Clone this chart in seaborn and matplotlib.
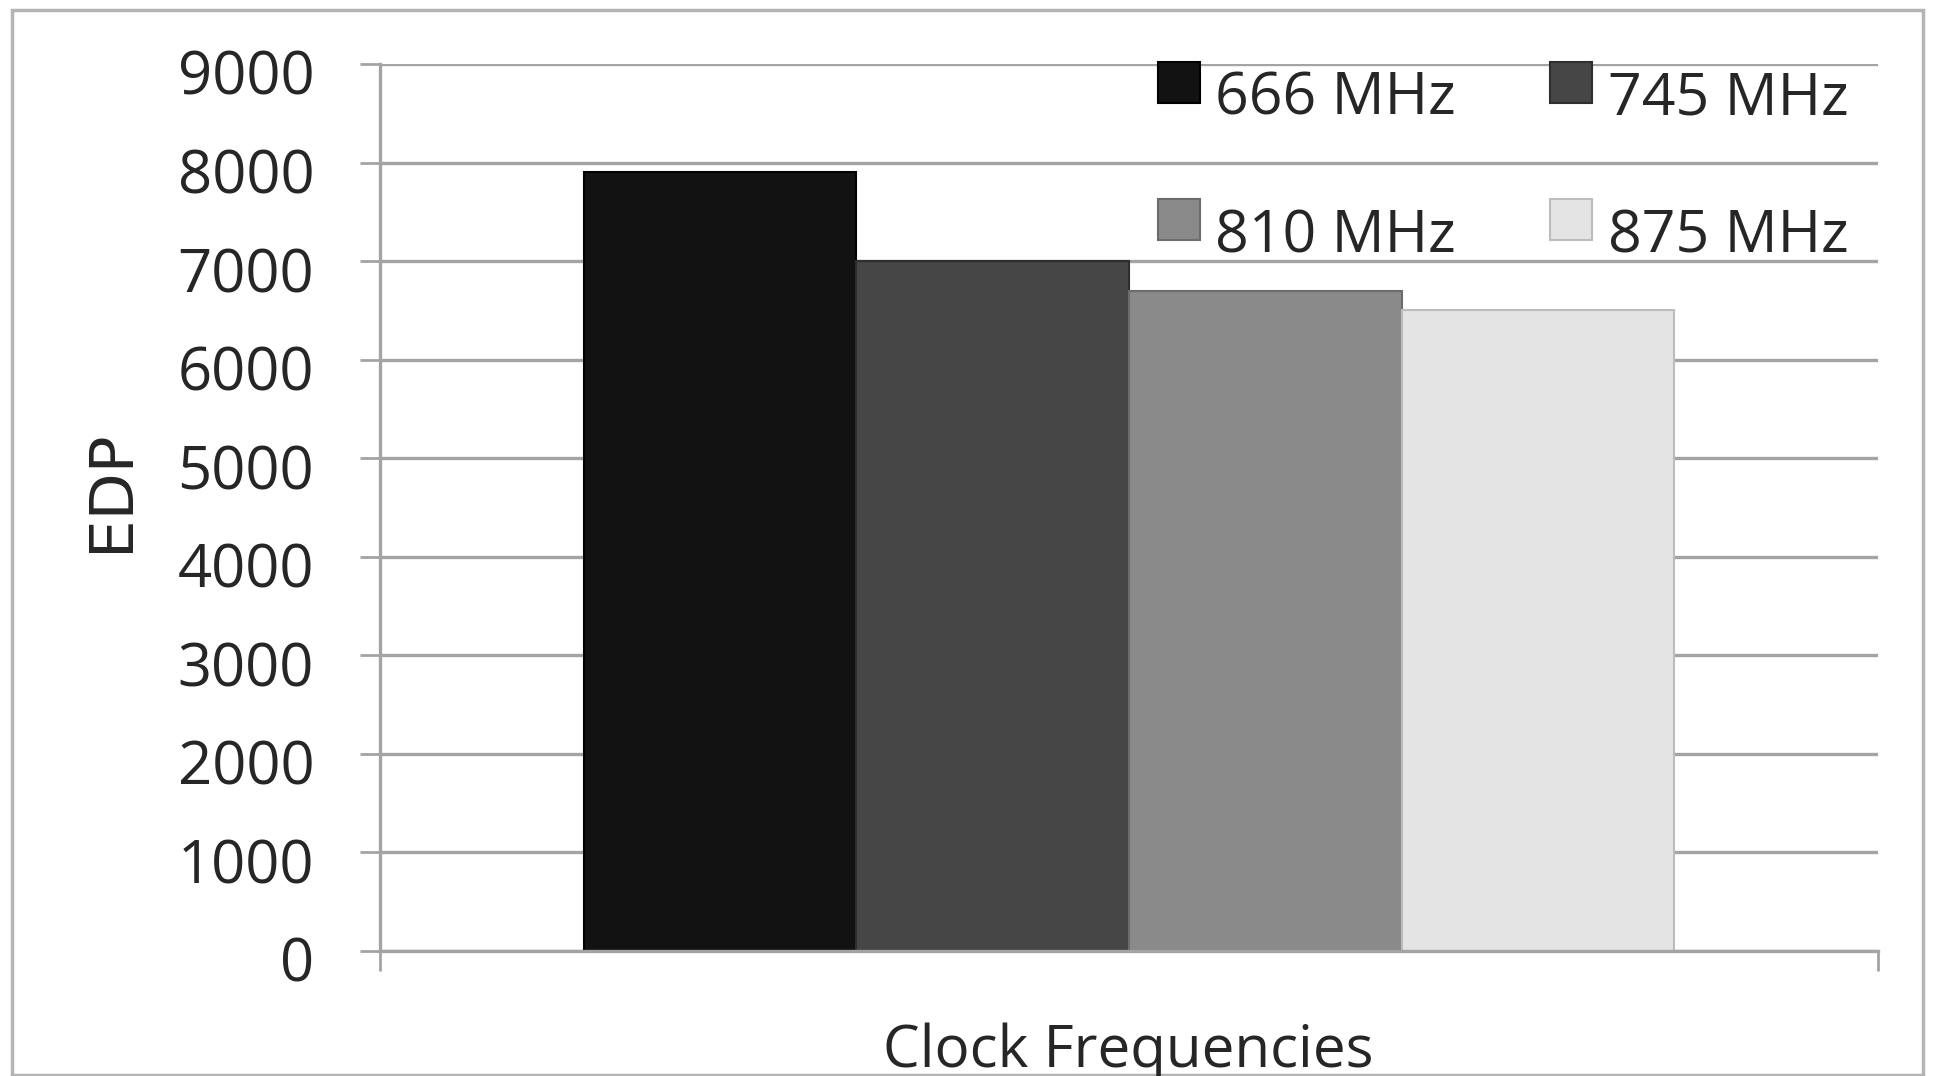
import matplotlib
matplotlib.use("Agg")
import matplotlib.pyplot as plt
import matplotlib.transforms as mtransforms
from matplotlib.legend_handler import HandlerPatch
from matplotlib.patches import Patch, Rectangle
import pandas as pd
import seaborn as sns

# EDP per clock frequency
frequencies = ["666 MHz", "745 MHz", "810 MHz", "875 MHz"]
edp_values = [7900, 7000, 6700, 6500]
bar_colors = ["#121212", "#464646", "#8a8a8a", "#e4e4e4"]
edge_colors = ["#000000", "#2e2e2e", "#6c6c6c", "#bcbcbc"]
y_ticks = [0, 1000, 2000, 3000, 4000, 5000, 6000, 7000, 8000, 9000]
x_label = "Clock Frequencies"
y_label = "EDP"

df = pd.DataFrame({"group": [x_label] * len(frequencies),
                   "freq": frequencies,
                   "EDP": edp_values})

sns.set_theme(style="white")
plt.rcParams["font.family"] = ["Open Sans", "DejaVu Sans"]

W, H = 1935, 1076
fig = plt.figure(figsize=(W / 100, H / 100), dpi=100)
fig.patch.set_facecolor("white")

ax_l, ax_r, ax_t, ax_b = 380, 1878, 64, 951
ax = fig.add_axes([ax_l / W, 1 - ax_b / H, (ax_r - ax_l) / W, (ax_b - ax_t) / H])

sns.barplot(data=df, x="group", y="EDP", hue="freq", hue_order=frequencies,
            palette=bar_colors, saturation=1, width=0.728, gap=0,
            linewidth=1.5, legend=False, ax=ax)
for patch, ec in zip(ax.patches, edge_colors):
    patch.set_edgecolor(ec)

grid_color = "#a4a4a4"
text_color = "#262626"
ax.set_xlim(-0.5, 0.5)
ax.set_ylim(0, 9000)
ax.set_yticks(y_ticks)
ax.set_yticklabels([str(v) for v in y_ticks])
ax.set_xticks([-0.5, 0.5])
ax.set_xticklabels(["", ""])
ax.set_xlabel("")
ax.set_ylabel("")

ax.yaxis.grid(True, color=grid_color, linewidth=2.4)
ax.xaxis.grid(False)
ax.set_axisbelow(True)
for side in ["top", "right"]:
    ax.spines[side].set_visible(False)
for side in ["left", "bottom"]:
    ax.spines[side].set_color(grid_color)
    ax.spines[side].set_linewidth(2.4)

ax.tick_params(axis="y", left=True, length=14.4, width=2, color=grid_color,
               direction="out", pad=33, labelsize=43, labelcolor=text_color)
ax.tick_params(axis="x", bottom=True, length=14.4, width=2, color=grid_color,
               direction="out")
# tick labels sit a little below their gridlines
shift = mtransforms.ScaledTranslation(0, -8 / 100, fig.dpi_scale_trans)
for lbl in ax.get_yticklabels():
    lbl.set_transform(lbl.get_transform() + shift)

# axis titles
fig.text(111 / W, 1 - 491 / H, y_label, rotation=90, ha="center", va="center",
         fontsize=44, color=text_color, family=["DejaVu Sans"])
fig.text(1128 / W, 1 - 1052 / H, x_label, ha="center", va="center",
         fontsize=42, color=text_color)


# legend swatches sit slightly above the text centre
def raised_swatch(legend, orig_handle, xdescent, ydescent, width, height, fontsize):
    return Rectangle((-xdescent, -ydescent + 8.5), width, height)


order = [0, 2, 1, 3]
handles = [Patch(facecolor=bar_colors[i], edgecolor=edge_colors[i], linewidth=1.5)
           for i in order]
labels = [frequencies[i] for i in order]
ax.legend(handles, labels, ncol=2, loc="upper left",
          bbox_to_anchor=((1158 - ax_l) / (ax_r - ax_l), 0.993),
          frameon=False, prop={"size": 42.5}, labelcolor=text_color,
          handler_map={Patch: HandlerPatch(patch_func=raised_swatch)},
          handlelength=0.71, handleheight=0.69, handletextpad=0.26,
          columnspacing=1.6, labelspacing=1.34, borderpad=0, borderaxespad=0)

# outer chart border
fig.patches.append(Rectangle((12 / W, 1 / H), (1923 - 12) / W, (H - 11) / H,
                             transform=fig.transFigure, fill=False,
                             edgecolor="#b4b4b4", linewidth=2.5))

fig.savefig("out.png", dpi=100, facecolor="white")
